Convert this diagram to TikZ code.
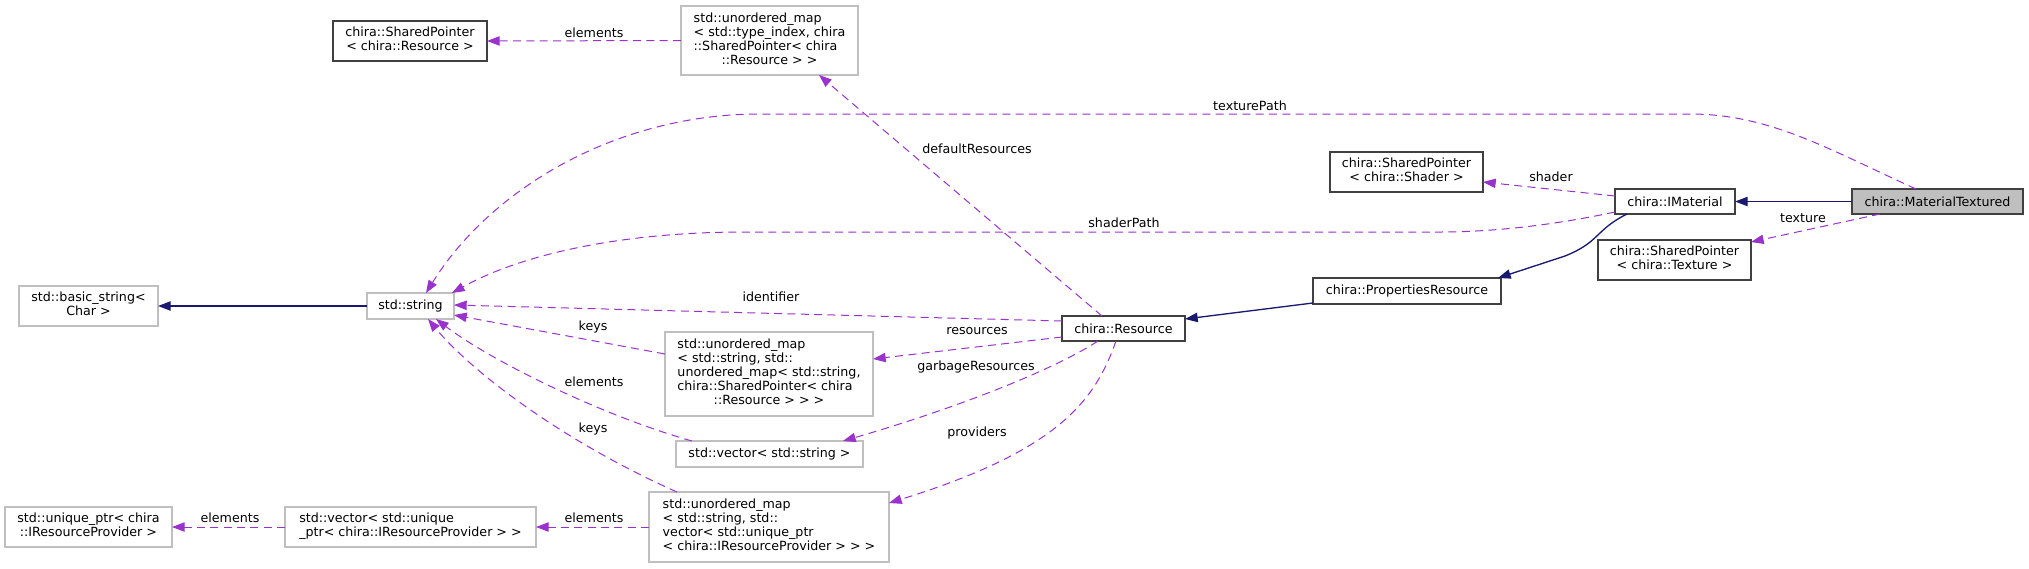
\documentclass[tikz,border=0pt]{standalone}
\usepackage{fontspec}
\setmainfont{DejaVu Sans}
\usetikzlibrary{arrows.meta,calc}
\definecolor{edgep}{HTML}{9A32CD}
\definecolor{navyc}{HTML}{191970}
\definecolor{boxg}{HTML}{BFBFBF}
\definecolor{boxk}{HTML}{404040}
\newcommand{\mlines}[2]{\begin{tabular}{@{}l@{}}#1\\\multicolumn{1}{@{}c@{}}{#2}\end{tabular}}
\begin{document}
\begin{tikzpicture}[x=0.75pt,y=-0.75pt,
  cls/.style={draw=boxk, line width=0.8pt, inner sep=0pt, outer sep=0pt, text=black,
     font=\fontsize{9.5}{10.5}\selectfont},
  ext/.style={cls, draw=boxg},
  usage/.style={draw=edgep, line width=0.75pt, dash pattern=on 6pt off 4pt,
     -{Triangle[length=9.5pt,width=7pt]}},
  inh/.style={draw=navyc, line width=1pt, -{Triangle[length=9.5pt,width=7pt]}},
  lbl/.style={inner sep=0pt, font=\fontsize{9.5}{10.5}\selectfont, text=black}]
\useasboundingbox (0,0) rectangle (2029,568);
\fill[white] (0,0) rectangle (2029,568);

% nodes
\node[cls, minimum width=115.5pt, minimum height=30pt] (spres) at (410,41) {\mlines{chira::SharedPointer}{< chira::Resource >}};
\node[ext, minimum width=132.75pt, minimum height=51.75pt] (umaptype) at (769.5,40.5) {\mlines{std::unordered\_map\\< std::type\_index, chira\\::SharedPointer< chira}{::Resource > >}};
\node[cls, minimum width=114.75pt, minimum height=30pt] (spshader) at (1406.5,172) {\mlines{chira::SharedPointer}{< chira::Shader >}};
\node[cls, minimum width=90pt, minimum height=18.75pt] (imat) at (1675,201.5) {chira::IMaterial};
\node[cls, fill=boxg, minimum width=128.25pt, minimum height=18.75pt] (mt) at (1937.5,201.5) {chira::MaterialTextured};
\node[cls, minimum width=114.75pt, minimum height=30pt] (sptex) at (1674.5,260) {\mlines{chira::SharedPointer}{< chira::Texture >}};
\node[cls, minimum width=141pt, minimum height=19.5pt] (pr) at (1407,291) {chira::PropertiesResource};
\node[cls, minimum width=92.25pt, minimum height=18.75pt] (res) at (1123.5,328.5) {chira::Resource};
\node[ext, minimum width=65.25pt, minimum height=19.5pt] (str) at (410.5,306) {std::string};
\node[ext, minimum width=104.25pt, minimum height=30pt] (bstr) at (88.5,306) {\mlines{std::basic\_string<}{Char >}};
\node[ext, minimum width=156pt, minimum height=63pt] (umapstr) at (769,374) {\mlines{std::unordered\_map\\< std::string, std::\\unordered\_map< std::string,\\chira::SharedPointer< chira}{::Resource > > >}};
\node[ext, minimum width=140.25pt, minimum height=19.5pt] (vecstr) at (769.5,454) {std::vector< std::string >};
\node[ext, minimum width=180pt, minimum height=52.5pt] (umapvec) at (769,527) {\mlines{std::unordered\_map\\< std::string, std::\\vector< std::unique\_ptr}{< chira::IResourceProvider > > >}};
\node[ext, minimum width=188.25pt, minimum height=30pt] (vecup) at (410.5,527) {\mlines{std::vector< std::unique}{\_ptr< chira::IResourceProvider > >}};
\node[ext, minimum width=125.25pt, minimum height=30pt] (uptr) at (88.5,527) {\mlines{std::unique\_ptr< chira}{::IResourceProvider >}};

% inheritance
\draw[inh] (mt.west) -- (imat.east);
\draw[inh] ($(imat.south west)+(12,0)$) .. controls (1595,230) and (1600,242) .. (1565,256) -- ($(pr.north east)+(-3,0)$);
\draw[inh] ($(pr.south west)+(0,-1)$) -- ($(res.north east)+(0,3)$);
\draw[inh] (str.west) -- (bstr.east);

% usage
\draw[usage] ($(mt.north west)+(64,0)$) .. controls (1830,150) and (1770,114) .. (1690,114) -- (760,114) .. controls (615,114) and (490,190) .. ($(str.north west)+(59,0)$);
\draw[usage] ($(imat.south west)+(0,-2)$) .. controls (1540,228) and (1480,232) .. (1440,232) -- (744,232) .. controls (620,232) and (520,255) .. ($(str.north east)+(-2,0)$);
\draw[usage] ($(imat.north west)+(0,7)$) -- ($(spshader.east)+(0,10)$);
\draw[usage] ($(mt.south west)+(28,0)$) -- ($(sptex.north east)+(0,2)$);
\draw[usage] (umaptype.west) -- (spres.east);
\draw[usage] ($(res.north west)+(40,0)$) -- ($(umaptype.south west)+(138,0)$);
\draw[usage] ($(res.north west)+(0,5)$) -- ($(str.east)+(0,-1)$);
\draw[usage] ($(res.north west)+(0,21)$) -- ($(umapstr.north east)+(0,27)$);
\draw[usage] ($(res.south west)+(36,0)$) .. controls (1050,372) and (950,410) .. ($(vecstr.north east)+(-20,0)$);
\draw[usage] ($(res.south west)+(54,0)$) .. controls (1095,400) and (1060,450) .. ($(umapvec.north east)+(0,11)$);
\draw[usage] ($(umapstr.north west)+(0,22)$) -- ($(str.south east)+(0,-4)$);
\draw[usage] ($(vecstr.north west)+(16,0)$) .. controls (600,415) and (490,360) .. ($(str.south west)+(69,0)$);
\draw[usage] ($(umapvec.north west)+(28,0)$) .. controls (560,440) and (470,370) .. ($(str.south west)+(61,0)$);
\draw[usage] (umapvec.west) -- (vecup.east);
\draw[usage] (vecup.west) -- (uptr.east);

% labels
\node[lbl] (l1) at (1250,106) {texturePath};
\node[lbl] (l2) at (1124,223) {shaderPath};
\node[lbl] (l3) at (1551,177) {shader};
\node[lbl] (l4) at (1803,218) {texture};
\node[lbl] (l5) at (594,33) {elements};
\node[lbl] (l6) at (977,149) {defaultResources};
\node[lbl] (l7) at (771,297) {identifier};
\node[lbl] (l8) at (977,331) {resources};
\node[lbl] (l9) at (976,367) {garbageResources};
\node[lbl] (l10) at (977,433) {providers};
\node[lbl] (l11) at (593,327) {keys};
\node[lbl] (l12) at (594,382) {elements};
\node[lbl] (l13) at (593,429) {keys};
\node[lbl] (l14) at (594,518) {elements};
\node[lbl] (l15) at (230,518) {elements};
\end{tikzpicture}
\end{document}
